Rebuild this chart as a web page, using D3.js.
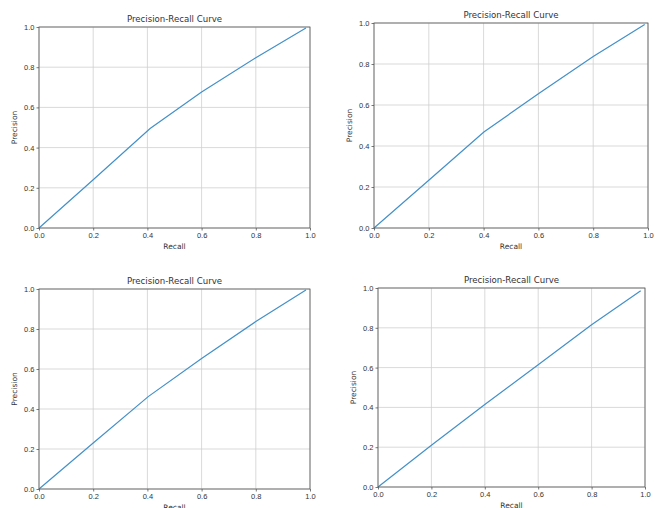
<!DOCTYPE html>
<html>
<head>
<meta charset="utf-8">
<script src="https://cdn.jsdelivr.net/npm/d3@7"></script>
<style>
  body { margin: 0; background: #fff; }
  svg { display: block; font-family: "DejaVu Sans", sans-serif; }
</style>
</head>
<body>
<div id="chart"></div>
<script>
// values
const recall1 = [0, 0.2, 0.41, 0.6, 0.8, 0.985];
const precision1 = [0, 0.24, 0.495, 0.677, 0.847, 0.995];
const recall2 = [0, 0.2, 0.401, 0.6, 0.8, 0.988];
const precision2 = [0, 0.233, 0.468, 0.655, 0.837, 0.993];
const recall3 = [0, 0.2, 0.403, 0.6, 0.8, 0.985];
const precision3 = [0, 0.23, 0.462, 0.653, 0.837, 0.995];
const recall4 = [0, 0.2, 0.4, 0.6, 0.8, 0.984];
const precision4 = [0, 0.21, 0.415, 0.614, 0.815, 0.986];
const tickValues = [0, 0.2, 0.4, 0.6, 0.8, 1.0];
const titleText = "Precision-Recall Curve";

// axes boxes in page pixels
const panels = [
  {left: 39, right: 310, top: 27, bottom: 228, recall: recall1, precision: precision1},
  {left: 374, right: 648, top: 23, bottom: 228, recall: recall2, precision: precision2},
  {left: 39, right: 310, top: 289, bottom: 489, recall: recall3, precision: precision3},
  {left: 378, right: 645, top: 288, bottom: 487, recall: recall4, precision: precision4}
];

const svg = d3.select("#chart").append("svg")
  .attr("width", 655)
  .attr("height", 508);

function drawPanel(p){
  let x = d3.scaleLinear().domain([0, 1]).range([p.left, p.right]);
  let y = d3.scaleLinear().domain([0, 1]).range([p.bottom, p.top]);
  let g = svg.append("g");

  //grid
  g.append("g").selectAll("line").data(tickValues).enter().append("line")
    .attr("x1", d => x(d)).attr("x2", d => x(d))
    .attr("y1", p.top).attr("y2", p.bottom)
    .attr("stroke", "#cfcfcf").attr("stroke-width", 0.8);
  g.append("g").selectAll("line").data(tickValues).enter().append("line")
    .attr("y1", d => y(d)).attr("y2", d => y(d))
    .attr("x1", p.left).attr("x2", p.right)
    .attr("stroke", "#cfcfcf").attr("stroke-width", 0.8);

  //axes
  let xAxis = d3.axisBottom(x).tickValues(tickValues).tickFormat(d3.format(".1f")).tickSize(2.5).tickPadding(2);
  let yAxis = d3.axisLeft(y).tickValues(tickValues).tickFormat(d3.format(".1f")).tickSize(2.5).tickPadding(2);
  let gx = g.append("g").attr("transform", "translate(0," + p.bottom + ")").call(xAxis);
  let gy = g.append("g").attr("transform", "translate(" + p.left + ",0)").call(yAxis);
  [gx, gy].forEach(a => {
    a.select(".domain").remove();
    a.selectAll("line").attr("stroke", "#555").attr("stroke-width", 0.8);
    a.selectAll("text").attr("fill", "#333").style("font-size", "7.5px");
  });

  //line
  let pts = p.recall.map((r, i) => [r, p.precision[i]]);
  g.append("path")
    .datum(pts)
    .attr("fill", "none")
    .attr("stroke", "#4390c8")
    .attr("stroke-width", 1.2)
    .attr("d", d3.line().x(d => x(d[0])).y(d => y(d[1])));

  //frame
  g.append("rect")
    .attr("x", p.left).attr("y", p.top)
    .attr("width", p.right - p.left).attr("height", p.bottom - p.top)
    .attr("fill", "none").attr("stroke", "#555").attr("stroke-width", 0.8);

  //texts
  g.append("text")
    .text(titleText)
    .attr("x", (p.left + p.right) / 2).attr("y", p.top - 5)
    .attr("text-anchor", "middle")
    .attr("fill", "#333")
    .style("font-size", "8.6px");
  g.append("text")
    .text("Recall")
    .attr("x", (p.left + p.right) / 2).attr("y", p.bottom + 21)
    .attr("text-anchor", "middle")
    .attr("fill", "#333")
    .style("font-size", "7.5px");
  g.append("text")
    .text("Precision")
    .attr("transform", "translate(" + (p.left - 22) + "," + ((p.top + p.bottom) / 2) + ") rotate(-90)")
    .attr("text-anchor", "middle")
    .attr("fill", "#333")
    .style("font-size", "7.5px");
}

panels.forEach(drawPanel);
</script>
</body>
</html>
